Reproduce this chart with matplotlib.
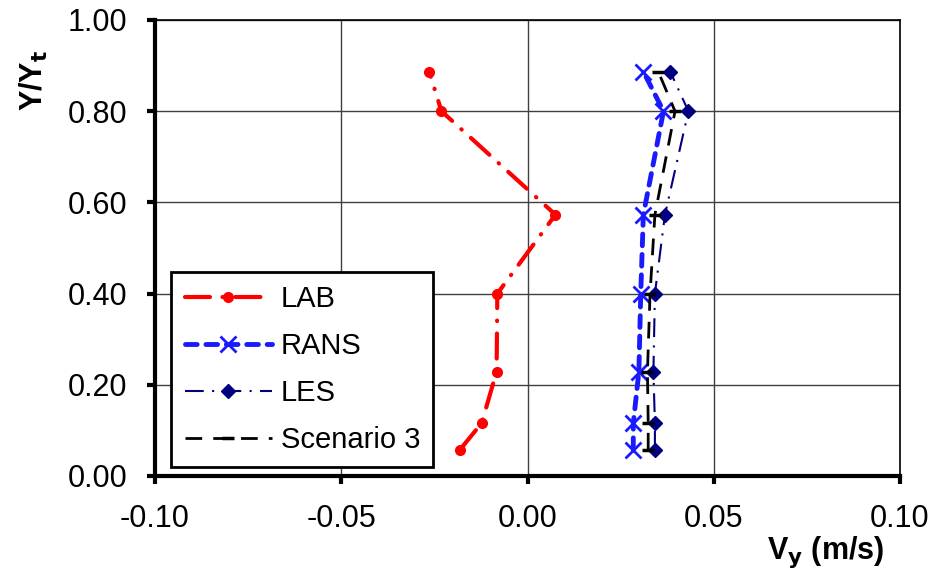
import numpy as np
import matplotlib.pyplot as plt

plt.rcParams['font.family'] = ['Liberation Sans', 'DejaVu Sans']

# y positions (Y/Yt) shared by all profiles
yy = [0.058, 0.116, 0.229, 0.400, 0.573, 0.800, 0.887]

v_lab = [-0.0181, -0.0123, -0.0083, -0.0081, 0.0075, -0.0231, -0.0264]
v_rans = [0.0284, 0.0284, 0.0299, 0.0304, 0.0311, 0.0365, 0.0311]
v_les = [0.0342, 0.0342, 0.0338, 0.0342, 0.0369, 0.0432, 0.0383]
v_sc3 = [0.0324, 0.0324, 0.0322, 0.0329, 0.0342, 0.0396, 0.0351]

xticks = [-0.10, -0.05, 0.00, 0.05, 0.10]
yticks = [0.0, 0.2, 0.4, 0.6, 0.8, 1.0]

fig = plt.figure(figsize=(9.44, 5.73), dpi=100)
ax = fig.add_axes([0.1642, 0.1693, 0.9534 - 0.1642, 0.9651 - 0.1693])

ax.plot(v_lab, yy, color='red', lw=3, ls=(0, (6, 3, 0.1, 3)),
        dash_capstyle='round', marker='o', ms=7, label='LAB')
ax.plot(v_rans, yy, color='#1a1aff', lw=3.5, ls=(0, (2.4, 1.8)),
        dash_capstyle='round', marker='x', ms=11, mew=2, label='RANS')
ax.plot(v_les, yy, color='#000080', lw=1.5, ls=(0, (9, 4, 1, 4)),
        marker='D', ms=7, label='LES')
ax.plot(v_sc3, yy, color='black', lw=2, ls=(0, (6, 4)),
        marker='_', ms=9, mew=2.5, label='Scenario 3')

ax.set_xlim(-0.10, 0.10)
ax.set_ylim(0, 1.0)
ax.set_xticks(xticks)
ax.set_yticks(yticks)
ax.set_xticklabels(['%.2f' % v for v in xticks])
ax.set_yticklabels(['%.2f' % v for v in yticks])
ax.tick_params(labelsize=22, direction='out', length=6, width=3)
ax.tick_params(axis='x', pad=14)
ax.tick_params(axis='y', pad=14)
ax.grid(True, color='#404040', lw=1)
ax.set_axisbelow(True)

for s in ['left', 'bottom']:
    ax.spines[s].set_linewidth(3)
for s in ['top', 'right']:
    ax.spines[s].set_linewidth(1.2)

ax.set_ylabel('Y/Y$_\\mathbf{t}$', fontsize=22, fontweight='bold')
ax.yaxis.set_label_coords(-0.141, 0.868)
fig.text(0.937, 0.025, 'V$_\\mathbf{y}$ (m/s)', fontsize=22,
         fontweight='bold', ha='right', va='baseline')

leg = ax.legend(loc='lower left', bbox_to_anchor=(0.022, 0.02), fontsize=21,
                frameon=True, fancybox=False, edgecolor='black',
                handlelength=3.0, handletextpad=0.3, labelspacing=0.65,
                borderpad=0.45, borderaxespad=0)
leg.get_frame().set_linewidth(2)
leg.get_frame().set_alpha(1)

fig.savefig('out.png', dpi=100)
